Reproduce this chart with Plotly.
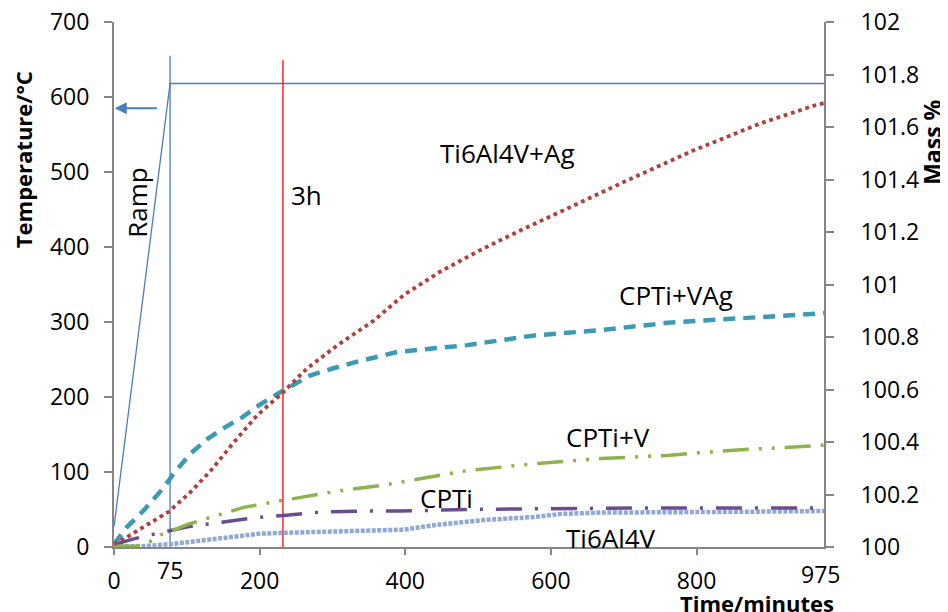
import plotly.graph_objects as go

# ---------------- data ----------------
# furnace temperature programme (left axis, deg C)
temp_time = [0, 77, 975]
temp_vals = [27, 618, 618]
ramp_end_time = 77
ramp_marker_top = 655
hold_3h_time = 232
hold_3h_top = 649
arrow_temp = 585

# mass % series (right axis)
ag_time = [0, 23, 48, 75, 105, 133, 165, 197, 231, 265, 307, 357, 398, 448, 503, 558, 613, 705, 796, 888, 963, 975]
ag_mass = [100.011, 100.046, 100.089, 100.134, 100.209, 100.291, 100.400, 100.503, 100.586, 100.680,
           100.769, 100.863, 100.960, 101.049, 101.131, 101.206, 101.277, 101.397, 101.511, 101.614,
           101.683, 101.691]

vag_time = [0, 18, 41, 69, 82, 105, 128, 153, 176, 199, 233, 270, 300, 334, 389, 485, 577, 668, 760, 851, 961, 975]
vag_mass = [100.011, 100.077, 100.140, 100.229, 100.280, 100.356, 100.411, 100.457, 100.494, 100.540,
            100.597, 100.654, 100.680, 100.706, 100.743, 100.769, 100.806, 100.826, 100.854, 100.870,
            100.889, 100.891]

v_time = [0, 30, 46, 64, 78, 101, 128, 178, 231, 261, 316, 366, 407, 485, 577, 668, 760, 851, 968, 975]
v_mass = [100.003, 100.003, 100.014, 100.046, 100.060, 100.086, 100.109, 100.151, 100.177, 100.191,
          100.217, 100.234, 100.254, 100.291, 100.317, 100.337, 100.349, 100.369, 100.386, 100.389]

cpti_time = [0, 27, 50, 73, 101, 146, 192, 233, 288, 343, 394, 485, 600, 733, 851, 975]
cpti_mass = [100.009, 100.031, 100.046, 100.060, 100.077, 100.094, 100.111, 100.120, 100.134, 100.137,
             100.137, 100.143, 100.146, 100.149, 100.149, 100.149]

ti_time = [0, 40, 78, 133, 201, 233, 316, 398, 439, 508, 577, 613, 668, 760, 851, 975]
ti_mass = [100.003, 100.003, 100.011, 100.029, 100.051, 100.054, 100.060, 100.066, 100.083, 100.103,
           100.114, 100.126, 100.131, 100.131, 100.134, 100.137]

x_tickvals = [0, 200, 400, 600, 800]
x_ticktext = ["0", "200", "400", "600", "800"]
y_tickvals = [0, 100, 200, 300, 400, 500, 600, 700]
y2_tickvals = [100, 100.2, 100.4, 100.6, 100.8, 101, 101.2, 101.4, 101.6, 101.8, 102]
y2_ticktext = ["100", "100.2", "100.4", "100.6", "100.8", "101", "101.2", "101.4", "101.6", "101.8", "102"]

FONT = "Open Sans"
AXIS_GREY = "#868686"
BLUE = "#4A7EBB"

fig = go.Figure()

# temperature programme
fig.add_trace(go.Scatter(x=temp_time, y=temp_vals, mode="lines",
                         line=dict(color=BLUE, width=1.3), yaxis="y", hoverinfo="skip"))
fig.add_trace(go.Scatter(x=[ramp_end_time, ramp_end_time], y=[0, ramp_marker_top], mode="lines",
                         line=dict(color=BLUE, width=1.3), yaxis="y", hoverinfo="skip"))
fig.add_trace(go.Scatter(x=[hold_3h_time, hold_3h_time], y=[-5, hold_3h_top], mode="lines",
                         line=dict(color="#FF0000", width=1.3), yaxis="y", hoverinfo="skip",
                         cliponaxis=False))

# mass series
fig.add_trace(go.Scatter(x=ti_time, y=ti_mass, mode="lines", yaxis="y2", name="Ti6Al4V",
                         line=dict(color="#8FA8D4", width=4.5, dash="4px,1.5px")))
fig.add_trace(go.Scatter(x=cpti_time, y=cpti_mass, mode="lines", yaxis="y2", name="CPTi",
                         line=dict(color="#6B4C91", width=3.5, dash="26px,13px,3px,13px")))
fig.add_trace(go.Scatter(x=v_time, y=v_mass, mode="lines", yaxis="y2", name="CPTi+V",
                         line=dict(color="#8CB44A", width=3.5, dash="26px,10px,3px,10px,3px,10px")))
fig.add_trace(go.Scatter(x=vag_time, y=vag_mass, mode="lines", yaxis="y2", name="CPTi+VAg",
                         line=dict(color="#3D9AB5", width=4.5, dash="12px,8px")))
fig.add_trace(go.Scatter(x=ag_time, y=ag_mass, mode="lines", yaxis="y2", name="Ti6Al4V+Ag",
                         line=dict(color="#B0403C", width=3.8, dash="3.8px,3.8px")))

ann_font = dict(family=FONT, size=26, color="black")
tick_font = dict(family=FONT, size=23, color="black")
title_font = dict(family=FONT, size=22, color="black")
annotations = [
    dict(x=540, y=525, xref="x", yref="y", text="Ti6Al4V+Ag", showarrow=False, font=ann_font),
    dict(x=772, y=336, xref="x", yref="y", text="CPTi+VAg", showarrow=False, font=ann_font),
    dict(x=678, y=147, xref="x", yref="y", text="CPTi+V", showarrow=False, font=ann_font),
    dict(x=457, y=65, xref="x", yref="y", text="CPTi", showarrow=False, font=ann_font),
    dict(x=682, y=12, xref="x", yref="y", text="Ti6Al4V", showarrow=False, font=ann_font),
    dict(x=265, y=469, xref="x", yref="y", text="3h", showarrow=False, font=ann_font),
    dict(x=31.6, y=459, xref="x", yref="y", text="Ramp", showarrow=False, font=ann_font,
         textangle=-90, xanchor="center", yanchor="middle"),
    dict(x=0.0789, y=-0.0438, xref="paper", yref="paper", text="75", showarrow=False,
         font=tick_font, xanchor="center", yanchor="middle"),
    dict(x=0.9944, y=-0.052, xref="paper", yref="paper", text="975", showarrow=False,
         font=tick_font, xanchor="center", yanchor="middle"),
    # arrow pointing at the temperature axis
    dict(x=1, y=arrow_temp, xref="x", yref="y", ax=61, ay=arrow_temp, axref="x", ayref="y",
         text="", showarrow=True, arrowhead=2, arrowsize=1.2, arrowwidth=2, arrowcolor=BLUE),
    # axis titles
    dict(x=-0.128, y=0.737, xref="paper", yref="paper", text="<b>Temperature/°C</b>",
         showarrow=False, textangle=-90, xanchor="center", yanchor="middle", font=title_font),
    dict(x=1.153, y=0.771, xref="paper", yref="paper", text="<b>Mass %</b>",
         showarrow=False, textangle=-90, xanchor="center", yanchor="middle",
         font=dict(family=FONT, size=23, color="black")),
    dict(x=0.9056, y=-0.1067, xref="paper", yref="paper", text="<b>Time/minutes</b>",
         showarrow=False, xanchor="center", yanchor="middle", font=title_font),
]

# the page body adds an 8px offset, so the figure is 8px smaller with 8px smaller l/t margins
fig.update_layout(
    width=940, height=604,
    margin=dict(l=106, r=124, t=14, b=65, autoexpand=False),
    paper_bgcolor="white", plot_bgcolor="white",
    showlegend=False,
    annotations=annotations,
    xaxis=dict(range=[0, 975], tickvals=x_tickvals, ticktext=x_ticktext, showgrid=False,
               zeroline=False, showline=True, linecolor=AXIS_GREY, linewidth=2,
               ticks="outside", ticklen=6, tickcolor=AXIS_GREY, tickwidth=2,
               tickfont=tick_font, ticklabelstandoff=6, automargin=False,
               ticklabeloverflow="allow"),
    yaxis=dict(range=[0, 700], tickvals=y_tickvals, showgrid=False, zeroline=False,
               showline=True, linecolor=AXIS_GREY, linewidth=2, ticks="outside", ticklen=8,
               tickcolor=AXIS_GREY, tickwidth=2, tickfont=tick_font, ticklabelstandoff=10,
               automargin=False, ticklabeloverflow="allow"),
    yaxis2=dict(range=[100, 102], tickvals=y2_tickvals, ticktext=y2_ticktext, overlaying="y",
                side="right", showgrid=False, zeroline=False, showline=True, linecolor=AXIS_GREY,
                linewidth=2, ticks="outside", ticklen=8, tickcolor=AXIS_GREY, tickwidth=2,
                tickfont=tick_font, ticklabelstandoff=22, automargin=False,
                ticklabeloverflow="allow"),
)

fig.write_html("out.html")
